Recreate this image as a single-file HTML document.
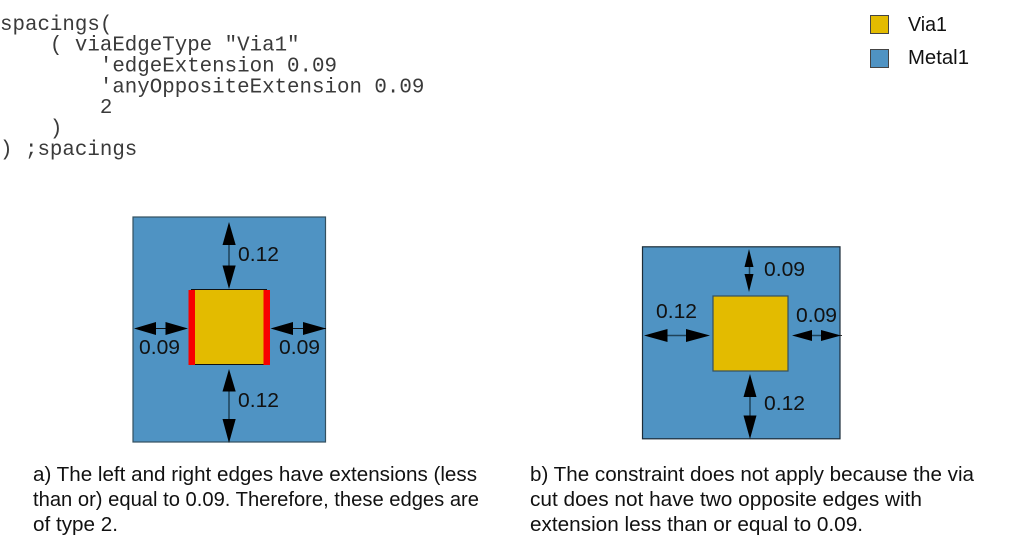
<!DOCTYPE html>
<html>
<head>
<meta charset="utf-8">
<style>
html,body{margin:0;padding:0;background:#fff;}
body{width:1013px;height:555px;overflow:hidden;}
svg{display:block;}
.c{font-family:"Liberation Mono",monospace;font-size:20.8px;fill:#3a3a3a;}
.t{font-family:"Liberation Sans",sans-serif;font-size:20.5px;fill:#111;}
.n{font-family:"Liberation Sans",sans-serif;font-size:20.5px;fill:#111;}
</style>
</head>
<body>
<svg width="1013" height="555" viewBox="0 0 1013 555" xmlns="http://www.w3.org/2000/svg">
<rect width="1013" height="555" fill="#fff"/>
<g class="c">
<text x="0" y="30" xml:space="preserve">spacings(</text>
<text x="0" y="50.500" xml:space="preserve">    ( viaEdgeType "Via1"</text>
<text x="0" y="71.500" xml:space="preserve">        'edgeExtension 0.09</text>
<text x="0" y="92.500" xml:space="preserve">        'anyOppositeExtension 0.09</text>
<text x="0" y="113" xml:space="preserve">        2</text>
<text x="0" y="134" xml:space="preserve">    )</text>
<text x="0" y="155" xml:space="preserve">) ;spacings</text>
</g>

<rect x="870.500" y="15.500" width="18" height="18" fill="#e3bb00" stroke="#444" stroke-width="1"/>
<rect x="870.500" y="49.500" width="18" height="18" fill="#4f93c3" stroke="#444" stroke-width="1"/>
<text class="n" x="908" y="31" textLength="39" lengthAdjust="spacingAndGlyphs">Via1</text>
<text class="n" x="908" y="64" textLength="61" lengthAdjust="spacingAndGlyphs">Metal1</text>

<!-- Left diagram -->
<rect x="133" y="217" width="192.500" height="225" fill="#4f93c3" stroke="#34505f" stroke-width="1.200"/>
<rect x="191" y="289.500" width="76" height="75" fill="#e3bb00"/>
<line x1="191" y1="289.500" x2="267" y2="289.500" stroke="#111"/>
<line x1="191" y1="364.500" x2="267" y2="364.500" stroke="#111"/>
<rect x="188.500" y="290" width="6.500" height="75" fill="#f80000"/>
<rect x="263.500" y="290" width="6.500" height="75" fill="#f80000"/>

<g stroke="#1f4258" stroke-width="1.500">
<line x1="229" y1="235" x2="229" y2="275"/>
<line x1="229" y1="380" x2="229" y2="428"/>
</g>
<g stroke="#111" stroke-width="1">
<line x1="150" y1="328.500" x2="175" y2="328.500"/>
<line x1="284" y1="328.500" x2="326" y2="328.500"/>
</g>
<g fill="#000">
<polygon points="229,222 222.500,245 235.700,245"/>
<polygon points="229,289 222.500,265.500 235.700,265.500"/>
<polygon points="229,369 222.500,391.500 235.700,391.500"/>
<polygon points="229,443 222.500,419 235.700,419"/>
<polygon points="134,328.500 156,322 156,335"/>
<polygon points="188,328.500 165.500,322 165.500,335"/>
<polygon points="270.500,328.500 293,322 293,335"/>
<polygon points="326,328.500 303,322 303,335"/>
</g>
<g class="n">
<text x="238" y="261" textLength="41" lengthAdjust="spacingAndGlyphs">0.12</text>
<text x="139" y="354" textLength="41" lengthAdjust="spacingAndGlyphs">0.09</text>
<text x="279" y="354" textLength="41" lengthAdjust="spacingAndGlyphs">0.09</text>
<text x="238" y="407" textLength="41" lengthAdjust="spacingAndGlyphs">0.12</text>
</g>

<!-- Right diagram -->
<rect x="642.500" y="246.800" width="197.500" height="192" fill="#4f93c3" stroke="#1c2c38" stroke-width="1.200"/>
<rect x="713" y="296" width="75" height="75" fill="#e3bb00" stroke="#34505f" stroke-width="1.200"/>

<g stroke="#1f4258" stroke-width="1.500">
<line x1="749.500" y1="262" x2="749.500" y2="279"/>
<line x1="750" y1="395" x2="750" y2="416"/>
<line x1="667" y1="335.500" x2="688" y2="335.500"/>
<line x1="812" y1="335.500" x2="822" y2="335.500"/>
</g>
<line x1="822" y1="335.500" x2="842" y2="335.500" stroke="#333" stroke-width="1"/>
<g fill="#000">
<polygon points="749,249 744.500,267 753.500,267"/>
<polygon points="749,292 744.500,274 753.500,274"/>
<polygon points="750,374 743.500,397 756.500,397"/>
<polygon points="750,439 743.500,415.500 756.500,415.500"/>
<polygon points="644,335.500 667.500,329 667.500,342"/>
<polygon points="710,335.500 686,329 686,342"/>
<polygon points="792,335.500 812,330 812,341"/>
<polygon points="841,335.500 821,330 821,341"/>
</g>
<g class="n">
<text x="764" y="276" textLength="41" lengthAdjust="spacingAndGlyphs">0.09</text>
<text x="656" y="318" textLength="41" lengthAdjust="spacingAndGlyphs">0.12</text>
<text x="796" y="322" textLength="41" lengthAdjust="spacingAndGlyphs">0.09</text>
<text x="764" y="410" textLength="41" lengthAdjust="spacingAndGlyphs">0.12</text>
</g>

<g class="t">
<text x="33" y="481" textLength="444" lengthAdjust="spacingAndGlyphs">a) The left and right edges have extensions (less</text>
<text x="33" y="506" textLength="446" lengthAdjust="spacingAndGlyphs">than or) equal to 0.09. Therefore, these edges are</text>
<text x="33" y="531" textLength="85" lengthAdjust="spacingAndGlyphs">of type 2.</text>
<text x="530" y="481" textLength="444" lengthAdjust="spacingAndGlyphs">b) The constraint does not apply because the via</text>
<text x="530" y="506" textLength="392" lengthAdjust="spacingAndGlyphs">cut does not have two opposite edges with</text>
<text x="530" y="531" textLength="333" lengthAdjust="spacingAndGlyphs">extension less than or equal to 0.09.</text>
</g>
</svg>
</body>
</html>
